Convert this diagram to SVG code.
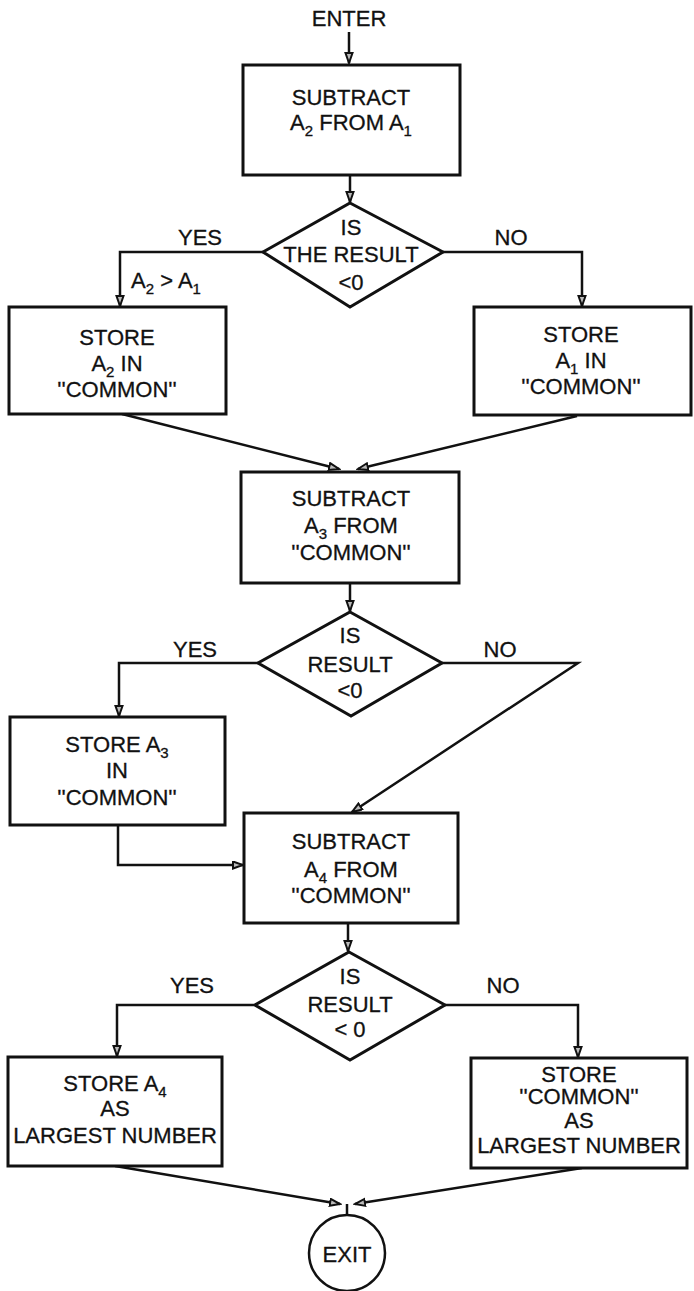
<svg xmlns="http://www.w3.org/2000/svg" width="694" height="1291" viewBox="0 0 694 1291">
  <style>
    text { font-family: "Liberation Sans", Arial, sans-serif; font-size: 22px; fill: #111; stroke: #111; stroke-width: 0.3; text-anchor: middle; }
    .sub { font-size: 15px; }
    .box { fill: #fff; stroke: #111; stroke-width: 3; }
    .conn { fill: none; stroke: #111; stroke-width: 2.5; }
    .arr { marker-end: url(#head); }
  </style>
  <defs>
    <marker id="head" markerUnits="userSpaceOnUse" markerWidth="13" markerHeight="11" refX="11" refY="4.5" orient="auto">
      <path d="M1,1 L11,4.5 L1,8 z" fill="#bbb" stroke="#111" stroke-width="2"/>
    </marker>
  </defs>

  <rect width="694" height="1291" fill="#fff"/>

  <!-- connectors and branch labels -->
  <g id="connectors">
    <path class="conn arr" d="M349,32 V63"/>
    <path class="conn arr" d="M350,175 V202"/>
    <path class="conn arr" d="M263,252 H120 V306"/>
    <path class="conn arr" d="M443,252 H582 V306"/>
    <path class="conn arr" d="M122,414 L339,469"/>
    <path class="conn arr" d="M577,416 L358,469"/>
    <path class="conn arr" d="M350,583 V611"/>
    <path class="conn arr" d="M258,663 H119 V716"/>
    <path class="conn arr" d="M442,663 H578 L352,812"/>
    <path class="conn arr" d="M118,825 V865 H243"/>
    <path class="conn arr" d="M348,923 V951"/>
    <path class="conn arr" d="M255,1005 H117 V1056"/>
    <path class="conn arr" d="M445,1005 H578 V1057"/>
    <path class="conn arr" d="M115,1166 L340,1204"/>
    <path class="conn arr" d="M582,1168 L355,1204"/>
    <path class="conn" d="M347,1204 V1215"/>
    <text x="200" y="245">YES</text>
    <text x="511" y="245">NO</text>
    <text x="131" y="288" style="text-anchor:start">A<tspan class="sub" dy="6">2</tspan><tspan dy="-6"> &gt; A</tspan><tspan class="sub" dy="6">1</tspan></text>
    <text x="195" y="657">YES</text>
    <text x="500" y="657">NO</text>
    <text x="192" y="993">YES</text>
    <text x="503" y="993">NO</text>
  </g>

  <g id="enter">
    <text x="349" y="26">ENTER</text>
  </g>

  <g id="sub-a2-a1">
    <rect class="box" x="243" y="65" width="217" height="110"/>
    <text x="351" y="105">SUBTRACT</text>
    <text x="351" y="130">A<tspan class="sub" dy="6">2</tspan><tspan dy="-6"> FROM A</tspan><tspan class="sub" dy="6">1</tspan></text>
  </g>

  <g id="test-1">
    <polygon class="box" points="350,203 443,252 350,307 263,252"/>
    <text x="351" y="235">IS</text>
    <text x="351" y="262">THE RESULT</text>
    <text x="351" y="290">&lt;0</text>
  </g>

  <g id="store-a2">
    <rect class="box" x="9" y="307" width="217" height="107"/>
    <text x="117" y="345">STORE</text>
    <text x="117" y="371">A<tspan class="sub" dy="6">2</tspan><tspan dy="-6"> IN</tspan></text>
    <text x="117" y="397">''COMMON''</text>
  </g>

  <g id="store-a1">
    <rect class="box" x="474" y="307" width="217" height="108"/>
    <text x="581" y="342">STORE</text>
    <text x="581" y="368">A<tspan class="sub" dy="6">1</tspan><tspan dy="-6"> IN</tspan></text>
    <text x="581" y="394">''COMMON''</text>
  </g>

  <g id="sub-a3">
    <rect class="box" x="241" y="472" width="218" height="111"/>
    <text x="351" y="506">SUBTRACT</text>
    <text x="351" y="533">A<tspan class="sub" dy="6">3</tspan><tspan dy="-6"> FROM</tspan></text>
    <text x="351" y="560">''COMMON''</text>
  </g>

  <g id="test-2">
    <polygon class="box" points="350,612 442,663 351,716 258,663"/>
    <text x="350" y="643">IS</text>
    <text x="350" y="672">RESULT</text>
    <text x="350" y="698">&lt;0</text>
  </g>

  <g id="store-a3">
    <rect class="box" x="10" y="717" width="215" height="108"/>
    <text x="117" y="752">STORE A<tspan class="sub" dy="6">3</tspan></text>
    <text x="117" y="778">IN</text>
    <text x="117" y="805">''COMMON''</text>
  </g>

  <g id="sub-a4">
    <rect class="box" x="244" y="813" width="214" height="110"/>
    <text x="351" y="849">SUBTRACT</text>
    <text x="351" y="877">A<tspan class="sub" dy="6">4</tspan><tspan dy="-6"> FROM</tspan></text>
    <text x="351" y="903">''COMMON''</text>
  </g>

  <g id="test-3">
    <polygon class="box" points="349,952 445,1005 350,1060 255,1005"/>
    <text x="350" y="984">IS</text>
    <text x="350" y="1012">RESULT</text>
    <text x="350" y="1037">&lt; 0</text>
  </g>

  <g id="store-a4">
    <rect class="box" x="8" y="1057" width="214" height="109"/>
    <text x="115" y="1091">STORE A<tspan class="sub" dy="6">4</tspan></text>
    <text x="115" y="1116">AS</text>
    <text x="115" y="1143">LARGEST NUMBER</text>
  </g>

  <g id="store-common">
    <rect class="box" x="471" y="1058" width="216" height="110"/>
    <text x="579" y="1082">STORE</text>
    <text x="579" y="1104">''COMMON''</text>
    <text x="579" y="1128">AS</text>
    <text x="579" y="1153">LARGEST NUMBER</text>
  </g>

  <g id="exit">
    <circle cx="347" cy="1253" r="38" fill="#fff" stroke="#111" stroke-width="2.5"/>
    <text x="347" y="1262">EXIT</text>
  </g>
</svg>
